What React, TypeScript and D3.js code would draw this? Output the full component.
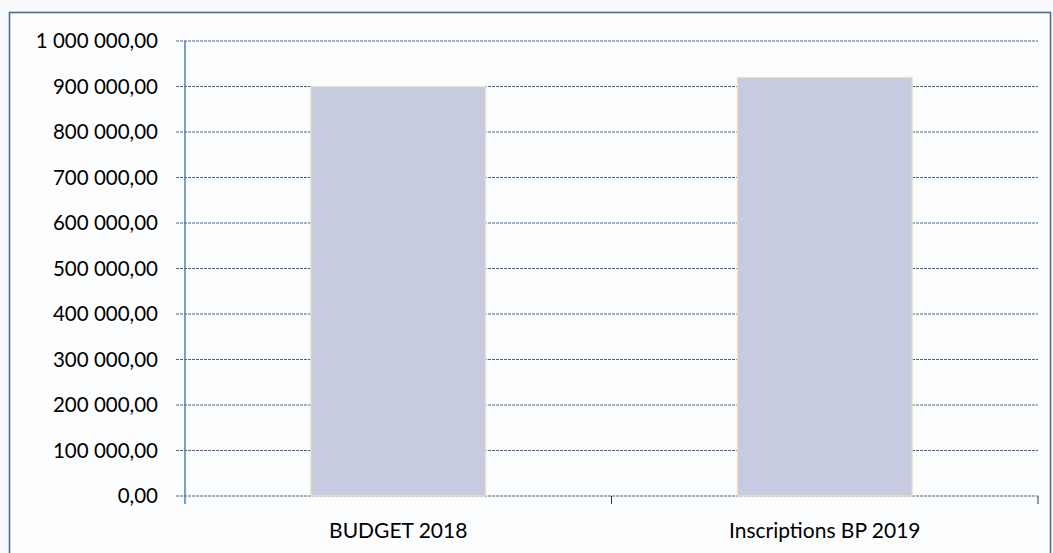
import React, { useRef, useEffect } from 'react';
import * as d3 from 'd3';

const categories = ['BUDGET 2018', 'Inscriptions BP 2019'];
const values = [900000, 920000];
const yTicks = [0, 100000, 200000, 300000, 400000, 500000, 600000, 700000, 800000, 900000, 1000000];

const W = 1053;
const H = 553;

const fmt = (v: number) => {
    const s = Math.round(v).toString().replace(/\B(?=(\d{3})+(?!\d))/g, ' ');
    return s + ',00';
};

const App = () => {
    const ref = useRef<SVGSVGElement>(null);

    useEffect(() => {
        if (!ref.current) return;
        const svg = d3.select(ref.current);
        svg.selectAll('*').remove();

        const left = 185, right = 1038, top = 41, bottom = 496;
        const font = 'Lato, "Open Sans", sans-serif';

        // background + frame
        svg.append('rect').attr('x', 0).attr('y', 0).attr('width', W).attr('height', H).attr('fill', '#f8f9fc');
        svg.append('rect')
            .attr('x', 9.5).attr('y', 12.5)
            .attr('width', W - 12).attr('height', H)
            .attr('fill', '#fcfdff')
            .attr('stroke', '#4d6d8c').attr('stroke-width', 1.6);

        const x = d3.scaleBand().domain(categories).range([left, right]).paddingInner(0.59).paddingOuter(0.295);
        const xOuter = d3.scaleBand().domain(categories).range([left, right]);
        const y = d3.scaleLinear().domain([0, 1000000]).range([bottom, top]);

        // gridlines
        svg.append('g').selectAll('line').data(yTicks).enter()
            .append('line')
            .attr('x1', left - 9).attr('x2', right)
            .attr('y1', d => y(d)).attr('y2', d => y(d))
            .attr('stroke', '#41698f').attr('stroke-width', 1)
            .attr('stroke-dasharray', '3,1');

        // bars
        svg.append('g').selectAll('rect').data(values).enter()
            .append('rect')
            .attr('x', (d, i) => x(categories[i]) as number)
            .attr('width', x.bandwidth())
            .attr('y', d => y(d))
            .attr('height', d => bottom - y(d))
            .attr('fill', '#c6cbe2')
            .attr('stroke', '#f3e2bd').attr('stroke-width', 1.2);

        // y axis line
        svg.append('line')
            .attr('x1', left).attr('x2', left).attr('y1', top).attr('y2', bottom + 8)
            .attr('stroke', '#3f79ad').attr('stroke-width', 1.4);

        // category ticks
        const bounds = [left, ...categories.map(c => (xOuter(c) as number) + xOuter.bandwidth())];
        svg.append('g').selectAll('line').data(bounds.slice(1)).enter()
            .append('line')
            .attr('x1', d => d).attr('x2', d => d).attr('y1', bottom).attr('y2', bottom + 8)
            .attr('stroke', '#333').attr('stroke-width', 1);

        // y labels
        svg.append('g').selectAll('text').data(yTicks).enter()
            .append('text')
            .attr('x', 158).attr('y', d => y(d))
            .attr('dy', '0.35em')
            .attr('text-anchor', 'end')
            .attr('font-family', font).attr('font-size', 20.5)
            .attr('fill', '#000')
            .text(d => fmt(d));

        // x labels
        svg.append('g').selectAll('text').data(categories).enter()
            .append('text')
            .attr('x', d => (xOuter(d) as number) + xOuter.bandwidth() / 2)
            .attr('y', 538)
            .attr('text-anchor', 'middle')
            .attr('font-family', font).attr('font-size', 21)
            .attr('fill', '#000')
            .text(d => d);
    }, []);

    return (
        <svg ref={ref} width={W} height={H} style={{ position: 'absolute', left: 0, top: 0 }} />
    );
};

export default App;
